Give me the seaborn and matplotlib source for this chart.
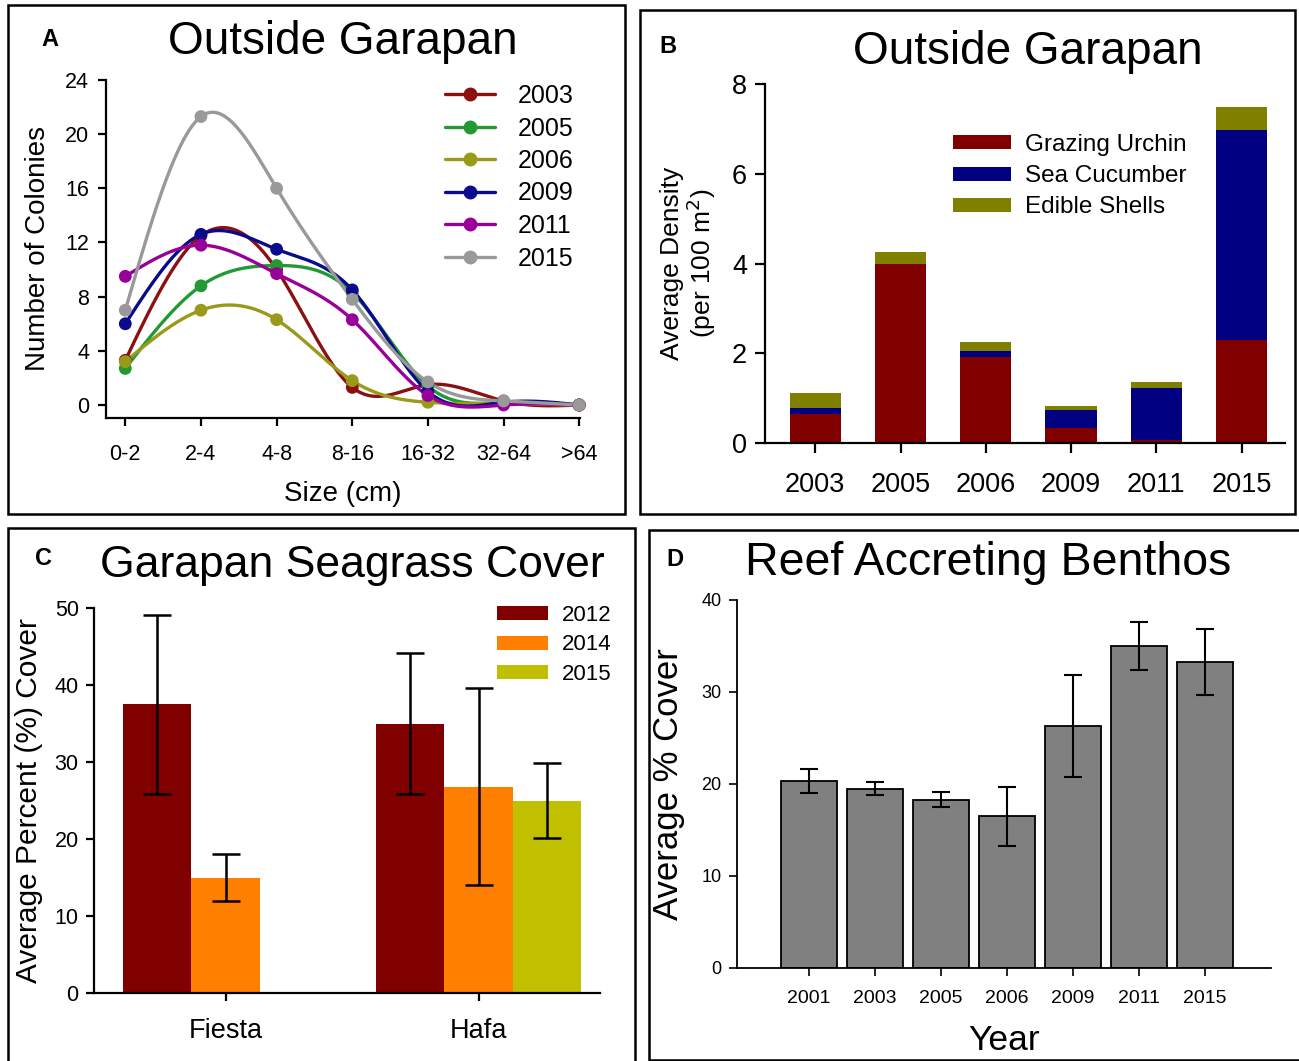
import numpy as np
import pandas as pd
import matplotlib
matplotlib.use("Agg")
import matplotlib.pyplot as plt
import seaborn as sns
from matplotlib.lines import Line2D
from matplotlib.patches import Rectangle, Patch

# ---------------- data ----------------
size_classes = ["0-2", "2-4", "4-8", "8-16", "16-32", "32-64", ">64"]
years_a = ["2003", "2005", "2006", "2009", "2011", "2015"]
col_2003 = [3.3, 12.5, 10.0, 1.3, 1.5, 0.3, 0.0]
col_2005 = [2.7, 8.8, 10.3, 8.3, 1.4, 0.2, 0.0]
col_2006 = [3.2, 7.0, 6.3, 1.8, 0.2, 0.1, 0.0]
col_2009 = [6.0, 12.6, 11.5, 8.5, 1.0, 0.2, 0.0]
col_2011 = [9.5, 11.8, 9.7, 6.3, 0.7, 0.0, 0.0]
col_2015 = [7.0, 21.3, 16.0, 7.8, 1.7, 0.3, 0.0]
colors_a = ["#8B1010", "#229933", "#99991A", "#0A0A8C", "#990099", "#999999"]

years_b = ["2003", "2005", "2006", "2009", "2011", "2015"]
urchin = [0.65, 3.98, 1.92, 0.34, 0.07, 2.30]
cucumber = [0.14, 0.0, 0.12, 0.39, 1.16, 4.67]
shells = [0.33, 0.27, 0.22, 0.09, 0.12, 0.52]
groups_b = ["Grazing Urchin", "Sea Cucumber", "Edible Shells"]
colors_b = ["#800000", "#000080", "#808000"]

sites = ["Fiesta", "Hafa"]
years_c = ["2012", "2014", "2015"]
fiesta_mean = [37.5, 15.0, np.nan]
fiesta_err = [11.6, 3.0, np.nan]
hafa_mean = [35.0, 26.8, 25.0]
hafa_err = [9.2, 12.8, 4.9]
colors_c = ["#800000", "#FF8000", "#C0C000"]

years_d = ["2001", "2003", "2005", "2006", "2009", "2011", "2015"]
benthos_mean = [20.3, 19.5, 18.3, 16.5, 26.3, 35.0, 33.3]
benthos_err = [1.3, 0.7, 0.85, 3.2, 5.5, 2.6, 3.6]

# ---------------- style ----------------
sns.set_style("ticks")
plt.rcParams["font.family"] = ["Liberation Sans", "DejaVu Sans"]
plt.rcParams["axes.linewidth"] = 1.6
plt.rcParams["xtick.major.width"] = 1.6
plt.rcParams["ytick.major.width"] = 1.6
for k in ["text.color", "axes.labelcolor", "xtick.color", "ytick.color", "axes.edgecolor"]:
    plt.rcParams[k] = "black"

W, H = 1299, 1061
fig = plt.figure(figsize=(W / 100, H / 100), dpi=100)


def fx(px):
    return px / W


def fy(py):
    return 1 - py / H


def axes_px(left, top, right, bottom):
    return fig.add_axes([fx(left), fy(bottom), (right - left) / W, (bottom - top) / H])


# panel boxes
for (l, t, r, b) in [(8, 5, 625, 514), (640, 10, 1295, 514), (8, 528, 635, 1062), (649, 530, 1300, 1060)]:
    fig.patches.append(Rectangle((fx(l), fy(b)), (r - l) / W, (b - t) / H, transform=fig.transFigure,
                                 fill=False, edgecolor="black", linewidth=1.8))


def natural_spline(x, y, xs):
    x = np.asarray(x, float)
    y = np.asarray(y, float)
    n = len(x)
    h = np.diff(x)
    A = np.zeros((n, n))
    rhs = np.zeros(n)
    A[0, 0] = 1
    A[-1, -1] = 1
    for i in range(1, n - 1):
        A[i, i - 1] = h[i - 1]
        A[i, i] = 2 * (h[i - 1] + h[i])
        A[i, i + 1] = h[i]
        rhs[i] = 3 * ((y[i + 1] - y[i]) / h[i] - (y[i] - y[i - 1]) / h[i - 1])
    c = np.linalg.solve(A, rhs)
    out = np.empty_like(xs)
    for k, xv in enumerate(xs):
        i = min(max(np.searchsorted(x, xv) - 1, 0), n - 2)
        dx = xv - x[i]
        b = (y[i + 1] - y[i]) / h[i] - h[i] * (2 * c[i] + c[i + 1]) / 3
        d = (c[i + 1] - c[i]) / (3 * h[i])
        out[k] = y[i] + b * dx + c[i] * dx ** 2 + d * dx ** 3
    return out


# ---------------- panel A ----------------
axA = axes_px(106, 80, 580, 418)
series_a = [col_2003, col_2005, col_2006, col_2009, col_2011, col_2015]
xi = np.arange(len(size_classes))
xs = np.linspace(0, len(size_classes) - 1, 300)
curve_rows = []
point_rows = []
for yr, vals in zip(years_a, series_a):
    ys = natural_spline(xi, vals, xs)
    curve_rows += [{"x": a, "y": b, "year": yr} for a, b in zip(xs, ys)]
    point_rows += [{"x": a, "y": b, "year": yr} for a, b in zip(xi, vals)]
curve_df = pd.DataFrame(curve_rows)
point_df = pd.DataFrame(point_rows)
pal_a = dict(zip(years_a, colors_a))
sns.lineplot(data=curve_df, x="x", y="y", hue="year", palette=pal_a, linewidth=2.4,
             legend=False, ax=axA, clip_on=False, sort=False, estimator=None)
sns.scatterplot(data=point_df, x="x", y="y", hue="year", palette=pal_a, s=85,
                edgecolor="none", legend=False, ax=axA, clip_on=False, zorder=5)
axA.set_xlim(-0.255, 6.01)
axA.set_ylim(-0.96, 24)
axA.set_yticks([0, 4, 8, 12, 16, 20, 24])
axA.set_xticks(xi)
axA.set_xticklabels(size_classes)
axA.tick_params(labelsize=15.5, length=6, pad=6)
axA.tick_params(axis="x", pad=13)
axA.set_xlabel("Size (cm)", fontsize=20, labelpad=11)
axA.set_ylabel("Number of Colonies", fontsize=20, labelpad=10)
sns.despine(ax=axA)
handles_a = [Line2D([0], [0], color=c, lw=2.4, marker="o", markersize=9) for c in colors_a]
axA.legend(handles_a, years_a, loc="upper left", bbox_to_anchor=(fx(445), fy(84)),
           bbox_transform=fig.transFigure, frameon=False, fontsize=18, handlelength=2.0,
           handletextpad=0.9, labelspacing=0.34, borderpad=0, borderaxespad=0)
fig.text(fx(343), fy(54), "Outside Garapan", fontsize=33, ha="center", va="baseline")
fig.text(fx(50), fy(46), "A", fontsize=17, fontweight="bold", ha="center", va="baseline")

# ---------------- panel B ----------------
axB = axes_px(765, 84, 1285, 443)
tot1 = np.array(urchin)
tot2 = tot1 + np.array(cucumber)
tot3 = tot2 + np.array(shells)
df_b = pd.DataFrame({"year": years_b, "t1": tot1, "t2": tot2, "t3": tot3})
for col, c in zip(["t3", "t2", "t1"], colors_b[::-1]):
    sns.barplot(data=df_b, x="year", y=col, color=c, width=0.6, saturation=1,
                linewidth=0, ax=axB)
axB.set_xlim(-0.59, 5.51)
axB.set_ylim(0, 8)
axB.set_yticks([0, 2, 4, 6, 8])
axB.tick_params(labelsize=19.5, length=7, pad=6)
axB.tick_params(axis="x", pad=14)
axB.set_xlabel("")
axB.set_ylabel("Average Density\n(per 100 m$^2$)", fontsize=19, labelpad=10, linespacing=1.0)
sns.despine(ax=axB)
handles_b = [Patch(facecolor=c, edgecolor="none") for c in colors_b]
axB.legend(handles_b, groups_b, loc="upper left", bbox_to_anchor=(fx(953), fy(134)),
           bbox_transform=fig.transFigure, frameon=False, fontsize=17.5, handlelength=2.4,
           handleheight=0.5, handletextpad=0.55, labelspacing=0.38, borderpad=0, borderaxespad=0)
fig.text(fx(1028), fy(64), "Outside Garapan", fontsize=33, ha="center", va="baseline")
fig.text(fx(668), fy(53), "B", fontsize=17, fontweight="bold", ha="center", va="baseline")

# ---------------- panel C ----------------
axC = axes_px(94, 608, 600, 993)
rows_c = []
err_c = {}
for site, means, errs in [("Fiesta", fiesta_mean, fiesta_err), ("Hafa", hafa_mean, hafa_err)]:
    for yr, m, e in zip(years_c, means, errs):
        if not np.isnan(m):
            rows_c.append({"site": site, "year": yr, "cover": m})
            err_c[(site, yr)] = e
df_c = pd.DataFrame(rows_c)
sns.barplot(data=df_c, x="site", y="cover", hue="year", hue_order=years_c, order=sites,
            palette=dict(zip(years_c, colors_c)), width=0.81, saturation=1, linewidth=0,
            legend=False, ax=axC)
for yr, cont in zip(years_c, axC.containers):
    present = [s for s in sites if (s, yr) in err_c]
    for s, bar in zip(present, cont):
        xc = bar.get_x() + bar.get_width() / 2
        axC.errorbar(xc, bar.get_height(), yerr=err_c[(s, yr)], color="black", elinewidth=1.8,
                     capsize=10, capthick=1.8, fmt="none", zorder=5)
axC.set_xlim(-0.52, 1.48)
axC.set_ylim(0, 50)
axC.set_yticks([0, 10, 20, 30, 40, 50])
axC.tick_params(labelsize=15.5, length=6, pad=5)
axC.tick_params(axis="x", labelsize=19.5, pad=12)
axC.set_xlabel("")
axC.set_ylabel("Average Percent (%) Cover", fontsize=21.5, labelpad=8)
sns.despine(ax=axC)
handles_c = [Patch(facecolor=c, edgecolor="none") for c in colors_c]
axC.legend(handles_c, years_c, loc="upper left", bbox_to_anchor=(fx(497), fy(605)),
           bbox_transform=fig.transFigure, frameon=False, fontsize=16, handlelength=2.3,
           handleheight=0.6, handletextpad=0.6, labelspacing=0.38, borderpad=0, borderaxespad=0)
fig.text(fx(352), fy(577), "Garapan Seagrass Cover", fontsize=32, ha="center", va="baseline")
fig.text(fx(44), fy(565), "C", fontsize=17, fontweight="bold", ha="center", va="baseline")

# ---------------- panel D ----------------
axD = axes_px(737, 600, 1271, 968)
df_d = pd.DataFrame({"year": years_d, "cover": benthos_mean})
sns.barplot(data=df_d, x="year", y="cover", color="#808080", width=0.84, saturation=1,
            edgecolor="black", linewidth=1.3, ax=axD)
for bar, e in zip(axD.patches, benthos_err):
    xc = bar.get_x() + bar.get_width() / 2
    axD.errorbar(xc, bar.get_height(), yerr=e, color="black", elinewidth=1.5,
                 capsize=6.5, capthick=1.5, fmt="none", zorder=5)
axD.set_xlim(-1.09, 7.0)
axD.set_ylim(0, 40)
axD.set_yticks([0, 10, 20, 30, 40])
axD.tick_params(labelsize=13, length=6, width=1.2, pad=5)
axD.tick_params(axis="x", labelsize=14, pad=10)
for s in axD.spines.values():
    s.set_linewidth(1.3)
axD.set_xlabel("Year", fontsize=25.5, labelpad=12)
axD.set_ylabel("Average % Cover", fontsize=25, labelpad=12)
sns.despine(ax=axD)
fig.text(fx(988), fy(575), "Reef Accreting Benthos", fontsize=33.5, ha="center", va="baseline")
fig.text(fx(675), fy(566), "D", fontsize=17, fontweight="bold", ha="center", va="baseline")

fig.savefig("out.png", dpi=100)
